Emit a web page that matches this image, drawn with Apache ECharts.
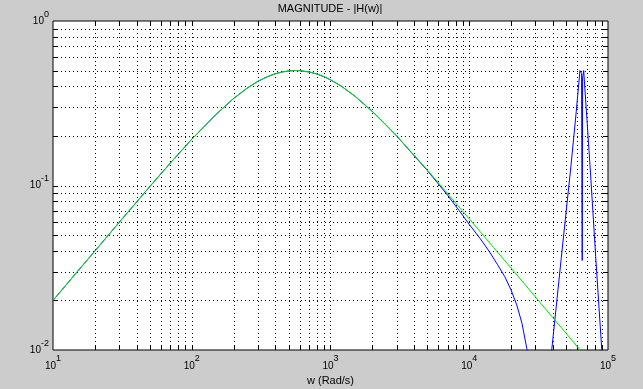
<!DOCTYPE html>
<html>
<head>
<meta charset="utf-8">
<script src="https://cdn.jsdelivr.net/npm/echarts@6/dist/echarts.min.js"></script>
<style>html,body{margin:0;padding:0;background:#cccccc;}#c{width:643px;height:389px;}</style>
</head>
<body>
<div id="c"></div>
<script>
// ---- data ----
const greenW = [10,15,20,30,50,70,100,150,200,250,300,350,400,450,500,550,600,700,800,900,1000,1200,1500,2000,2500,3000,4000,5000,7000,10000,15000,20000,30000,50000,70000,100000];
const greenMag = [0.0200,0.0300,0.0399,0.0597,0.0988,0.1368,0.191,0.271,0.338,0.390,0.430,0.458,0.478,0.490,0.497,0.500,0.499,0.490,0.476,0.458,0.439,0.401,0.349,0.282,0.234,0.200,0.153,0.124,0.089,0.0627,0.0419,0.0315,0.0210,0.0126,0.0090,0.0063];
const blueW = [10,15,20,30,50,70,100,150,200,250,300,350,400,450,500,550,600,700,800,900,1000,1200,1500,2000,2500,3000,4000,5000,6000,7000,8500,10000,12000,14000,16000,18000,20000,22000,24000,26000,28000,32000,39300,46000,54000,59000,62800,64500,65200,65600,66800,74800,81500,90200,100000];
const blueMag = [0.0200,0.0300,0.0399,0.0597,0.0988,0.1368,0.191,0.271,0.338,0.390,0.430,0.458,0.478,0.490,0.497,0.500,0.499,0.490,0.476,0.458,0.439,0.401,0.349,0.282,0.234,0.200,0.152,0.123,0.102,0.087,0.070,0.058,0.0475,0.0395,0.0330,0.0280,0.0232,0.0188,0.0145,0.0102,0.0060,0.0010,0.0100,0.0360,0.130,0.280,0.500,0.480,0.035,0.450,0.500,0.119,0.037,0.0100,0.0025];
const xGridValues = [20,30,40,50,60,70,80,90,100,200,300,400,500,600,700,800,900,1000,2000,3000,4000,5000,6000,7000,8000,9000,10000,20000,30000,40000,50000,60000,70000,80000,90000];
const yGridValues = [0.02,0.03,0.04,0.05,0.06,0.07,0.08,0.09,0.1,0.2,0.3,0.4,0.5,0.6,0.7,0.8,0.9];
const xMin = 10, xMax = 100000, yMin = 0.01, yMax = 1;
const titleText = 'MAGNITUDE - |H(w)|';
const xName = 'w (Rad/s)';

const FONT = '"Liberation Sans", Arial, Helvetica, sans-serif';
const chart = echarts.init(document.getElementById('c'), null, {renderer: 'canvas'});

function pow10Label(v) {
  const e = Math.round(Math.log10(v));
  return '{b|10}{e|' + e + '}';
}

function xGridItem(params, api) {
  const p = api.coord([api.value(0), yMin]);
  const cs = params.coordSys;
  const x = Math.round(p[0]) + 0.5;
  const t = cs.y, b = cs.y + cs.height;
  return {type: 'group', children: [
    {type: 'line', shape: {x1: x, y1: t, x2: x, y2: b}, style: {stroke: '#000', lineWidth: 1, lineDash: [1, 3]}},
    {type: 'line', shape: {x1: x, y1: b, x2: x, y2: b - 5}, style: {stroke: '#000', lineWidth: 1}},
    {type: 'line', shape: {x1: x, y1: t, x2: x, y2: t + 5}, style: {stroke: '#000', lineWidth: 1}}
  ]};
}
function yGridItem(params, api) {
  const p = api.coord([xMin, api.value(1)]);
  const cs = params.coordSys;
  const y = Math.round(p[1]) + 0.5;
  const l = cs.x, r = cs.x + cs.width;
  return {type: 'group', children: [
    {type: 'line', shape: {x1: l, y1: y, x2: r, y2: y}, style: {stroke: '#000', lineWidth: 1, lineDash: [1, 3]}},
    {type: 'line', shape: {x1: l, y1: y, x2: l + 5, y2: y}, style: {stroke: '#000', lineWidth: 1}},
    {type: 'line', shape: {x1: r, y1: y, x2: r - 5, y2: y}, style: {stroke: '#000', lineWidth: 1}}
  ]};
}

const option = {
  backgroundColor: '#cccccc',
  animation: false,
  title: {
    text: titleText, left: 330, top: 3, textAlign: 'center', padding: 0,
    textStyle: {fontFamily: FONT, fontSize: 11, fontWeight: 'normal', color: '#000'}
  },
  grid: {left: 53, right: 35, top: 21, bottom: 39, containLabel: false, outerBoundsMode: 'none',
         show: true, backgroundColor: '#ffffff', borderColor: '#000', borderWidth: 1},
  xAxis: {
    type: 'log', logBase: 10, min: xMin, max: xMax,
    name: xName, nameLocation: 'middle', nameGap: 21,
    nameTextStyle: {fontFamily: FONT, fontSize: 11, color: '#000'},
    axisLine: {show: false}, axisTick: {show: false}, splitLine: {show: false}, minorTick: {show: false},
    axisLabel: {
      margin: 4, showMinLabel: true, showMaxLabel: true, formatter: pow10Label, color: '#000',
      rich: {
        b: {fontFamily: FONT, fontSize: 10, color: '#000', verticalAlign: 'bottom'},
        e: {fontFamily: FONT, fontSize: 9, color: '#000', lineHeight: 17, verticalAlign: 'top'}
      }
    }
  },
  yAxis: {
    type: 'log', logBase: 10, min: yMin, max: yMax,
    axisLine: {show: false}, axisTick: {show: false}, splitLine: {show: false}, minorTick: {show: false},
    axisLabel: {
      margin: 4, showMinLabel: true, showMaxLabel: true, formatter: pow10Label, color: '#000',
      rich: {
        b: {fontFamily: FONT, fontSize: 10, color: '#000', verticalAlign: 'middle'},
        e: {fontFamily: FONT, fontSize: 9, color: '#000', lineHeight: 22, verticalAlign: 'top'}
      }
    }
  },
  series: [
    {type: 'custom', silent: true, clip: false, z: 1, renderItem: xGridItem, data: xGridValues.map(v => [v, yMin])},
    {type: 'custom', silent: true, clip: false, z: 1, renderItem: yGridItem, data: yGridValues.map(v => [xMin, v])},
    {type: 'line', name: 'blue', z: 3, showSymbol: false, symbol: 'none', clip: true,
     lineStyle: {color: '#0000ff', width: 1}, itemStyle: {color: '#0000ff'},
     data: blueW.map((w, i) => [w, blueMag[i]])},
    {type: 'line', name: 'green', z: 4, showSymbol: false, symbol: 'none', clip: true,
     lineStyle: {color: '#00e000', width: 1}, itemStyle: {color: '#00e000'},
     data: greenW.map((w, i) => [w, greenMag[i]])}
  ]
};
chart.setOption(option);
</script>
</body>
</html>
